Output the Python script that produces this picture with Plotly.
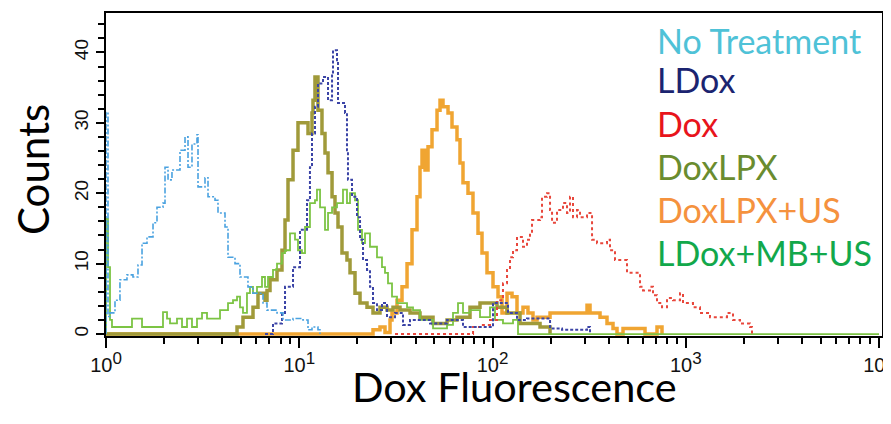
import plotly.graph_objects as go

# ---------------- data (fluorescence, counts) ----------------
nt_x = [1.0, 1.0, 1.024, 1.049, 1.113, 1.181, 1.284, 1.379, 1.464, 1.536, 1.630, 1.751, 1.836, 1.972,
        2.020, 2.094, 2.195, 2.415, 2.564, 2.657, 2.786, 2.957, 2.993, 3.253, 3.372, 3.665, 3.798,
        4.129, 4.279, 4.651, 4.936, 5.428, 5.763, 6.494, 6.810, 7.672, 8.240, 9.284, 10.45, 11.10,
        11.64, 12.50, 12.80]
nt_y = [0, 31.5, 2.5, 3.0, 4.8, 7.7, 8.4, 8.1, 9.8, 12.9, 13.8, 15.8, 18.0, 18.6,
        23.7, 21.9, 23.3, 26.1, 28.0, 23.7, 27.0, 28.3, 20.9, 22.2, 19.5, 19.0, 17.2,
        15.2, 10.9, 10.0, 8.1, 6.7, 5.8, 4.4, 3.4, 3.0, 2.0, 2.2, 2.0, 0.6,
        1.0, 0.6, 0]

ldox_x = [6.650, 7.314, 8.140, 8.440, 9.284, 10.09, 10.97, 11.36, 11.64, 12.06, 12.50, 13.27, 14.09,
          14.78, 14.95, 15.68, 15.87, 16.64, 17.25, 17.66, 17.87, 18.75, 19.90, 20.63, 21.38, 22.42,
          23.23, 24.08, 25.25, 26.80, 28.45, 31.30, 34.43, 37.43, 47.50, 58.16, 70.36, 100.6, 120.3,
          133.9, 150.8, 198.5, 228.9, 308.4, 319.6]
ldox_y = [0, 1.5, 3.0, 6.7, 9.5, 14.8, 19.0, 23.7, 28.5, 32.3, 35.6, 36.5, 33.2,
          37.0, 40.3, 38.9, 32.8, 32.8, 31.4, 26.1, 21.9, 19.5, 16.6, 13.4, 10.5, 9.1,
          6.7, 4.4, 3.4, 4.4, 2.4, 3.0, 1.3, 2.0, 1.5, 2.0, 1.0, 4.4, 3.0,
          2.0, 2.2, 0.8, 0.6, 1.0, 0]

dox_x = [31.30, 79.26, 79.3, 86.16, 97.07, 105.5, 113.3, 118.9, 123.2, 127.7, 133.9, 143.8, 150.8,
         156.3, 160.1, 176.2, 180.4, 191.4, 198.5, 203.3, 215.7, 231.6, 242.9, 251.8, 261.0, 273.7,
         283.7, 308.4, 327.4, 347.4, 391.3, 405.5, 430.4, 456.8, 496.6, 559.5, 579.9, 601.0, 653.1,
         676.9, 709.9, 753.5, 799.8, 859.0, 933.6, 967.8, 1090, 1185, 1335, 1504, 1635, 1756, 1909,
         2150, 2202]
dox_y = [0, 0, 1.0, 1.3, 2.0, 4.8, 7.2, 9.1, 10.9, 11.9, 13.8, 12.4, 13.4,
         14.3, 16.2, 16.6, 19.5, 20.0, 17.6, 15.8, 17.6, 18.6, 17.2, 19.5, 16.6, 17.6,
         16.6, 17.2, 13.4, 12.9, 13.4, 11.9, 10.5, 10.5, 8.7, 8.7, 6.7, 6.2, 6.7,
         5.5, 4.4, 3.8, 5.1, 4.8, 5.8, 4.4, 3.8, 3.0, 2.4, 2.4, 3.0, 2.0, 1.5,
         1.0, 0]

lpx_x = [1.0, 4.542, 4.764, 5.115, 5.763, 6.116, 6.650, 6.810, 7.058, 7.672, 8.140, 8.440, 8.746,
         9.284, 9.851, 10.71, 11.10, 11.64, 11.78, 12.06, 12.50, 13.11, 13.59, 14.09, 14.78, 15.31,
         15.87, 16.64, 17.66, 18.31, 19.43, 20.63, 22.42, 24.08, 26.17, 28.45, 30.56, 33.22, 37.43,
         42.16, 49.23, 58.16, 65.50, 76.48, 86.16, 105.5, 118.9, 138.8, 176.2, 198.5]
lpx_y = [0, 0, 1.0, 2.4, 3.8, 5.8, 4.8, 6.2, 7.7, 9.1, 11.9, 16.2, 21.9,
         26.1, 30.0, 30.0, 28.5, 31.4, 33.2, 36.5, 31.8, 28.5, 25.7, 22.9, 19.5, 17.2,
         15.2, 11.5, 10.5, 8.7, 5.8, 4.4, 3.8, 3.0, 3.8, 3.4, 3.8, 3.4, 3.0,
         2.4, 1.5, 2.0, 2.4, 3.8, 4.4, 3.8, 3.0, 1.5, 1.0, 0]

lpxus_x = [1.0, 23.23, 24.08, 26.17, 27.78, 29.49, 30.20, 32.05, 34.02, 36.12, 38.33, 40.68, 42.16,
           43.18, 44.75, 46.38, 48.64, 51.63, 53.51, 55.45, 58.86, 61.72, 65.50, 67.88, 70.36, 74.68,
           79.26, 84.14, 88.25, 93.65, 100.6, 106.8, 112.0, 118.9, 126.2, 133.9, 143.8, 152.6, 162.0,
           170.0, 198.5, 294.0, 308.4, 319.6, 360.1, 391.3, 420.3, 440.8, 473.5, 615.4, 709.9, 753.5]
lpxus_y = [0, 0, 0.6, 1.0, 0.2, 2.0, 3.0, 4.8, 6.7, 10.0, 14.8, 19.5, 23.7,
           26.1, 23.3, 26.6, 29.0, 31.8, 33.2, 32.3, 31.4, 29.4, 27.6, 24.3, 21.5, 20.0,
           17.2, 14.3, 11.5, 8.7, 6.7, 5.3, 3.0, 5.8, 5.3, 3.0, 3.8, 3.0, 2.0,
           2.4, 3.0, 3.0, 4.1, 3.0, 2.4, 1.5, 0.8, 0, 0.8, 0, 1.0, 0]

mbus_x = [1.0, 1.0, 1.024, 1.049, 1.074, 1.363, 1.536, 1.972, 2.069, 2.144, 2.330, 2.474, 2.625,
          2.786, 2.957, 3.139, 3.332, 3.890, 4.279, 4.542, 4.764, 4.936, 5.115, 5.364, 5.559, 5.763,
          6.044, 6.416, 6.650, 6.891, 7.314, 7.672, 8.140, 8.440, 8.957, 9.506, 9.851, 10.33, 10.71,
          11.36, 12.06, 12.35, 12.81, 13.59, 14.09, 14.78, 15.68, 16.84, 17.66, 18.31, 19.43, 20.14,
          21.12, 21.89, 23.23, 25.25, 26.80, 27.78, 28.79, 30.20, 32.05, 36.12, 38.79, 42.16, 49.23,
          58.16, 62.46, 66.29, 70.36, 76.48, 86.16, 97.07, 103.0, 113.3, 127.7, 135.5, 10000]
mbus_y = [0, 16.4, 9.5, 2.0, 1.0, 2.2, 1.0, 3.1, 2.2, 1.5, 2.2, 1.0, 2.2,
          1.0, 2.2, 3.0, 2.2, 3.4, 4.4, 4.8, 5.3, 3.8, 3.0, 5.8, 6.7, 5.8,
          6.7, 8.1, 6.7, 8.1, 9.1, 10.0, 11.5, 11.9, 14.3, 13.4, 11.9, 11.5, 15.2,
          18.6, 19.0, 20.5, 18.0, 14.8, 17.2, 18.0, 18.6, 20.5, 18.6, 20.0, 19.0, 14.8,
          12.9, 14.3, 12.4, 10.9, 9.5, 8.7, 7.2, 5.3, 4.4, 3.8, 3.4, 2.0, 0.8,
          1.3, 3.0, 4.4, 3.0, 3.4, 2.4, 3.8, 2.0, 1.5, 2.0, 0, 0]

legend_labels = ["No Treatment", "LDox", "Dox", "DoxLPX", "DoxLPX+US", "LDox+MB+US"]
legend_colors = ["#4fc2d7", "#1b2470", "#e8141c", "#6a8c2f", "#f5923e", "#12a84b"]

x_tickvals = [1, 10, 100, 1000, 10000]
x_exponents = ["0", "1", "2", "3", "4"]
x_ticktext = ["10<sup><span style='font-size:17px'>" + e + "</span></sup>" for e in x_exponents]
x_minor = [m * d for d in [1, 10, 100, 1000] for m in range(2, 10)]
y_tickvals = [0, 10, 20, 30, 40]

# ---------------- figure ----------------
fig = go.Figure()

def add(x, y, color, width, dash):
    fig.add_trace(go.Scatter(x=x, y=y, mode="lines", line=dict(color=color, width=width, dash=dash, shape="hv"),
                             showlegend=False, hoverinfo="skip"))

add(lpxus_x, lpxus_y, "#f0a532", 3.5, "solid")
add(lpx_x, lpx_y, "#a09a3a", 3.5, "solid")
add(mbus_x, mbus_y, "#7cc444", 1.8, "solid")
add(dox_x, dox_y, "#e8473c", 2, "3px,3px")
add(ldox_x, ldox_y, "#3b44a6", 2, "3px,2px")
add(nt_x, nt_y, "#4aa2e0", 1.6, "6px,2px,2px,2px")

ys = [0.916, 0.793, 0.659, 0.526, 0.393, 0.260]
for lab, col, yy in zip(legend_labels, legend_colors, ys):
    fig.add_annotation(text=lab, xref="paper", yref="paper", x=0.7075, y=yy, xanchor="left", yanchor="middle",
                       showarrow=False, font=dict(family="Lato", size=34, color=col))

fig.add_annotation(text="Counts", xref="paper", yref="paper", x=-0.094, y=0.514, textangle=-90,
                   xanchor="center", yanchor="middle", showarrow=False,
                   font=dict(family="Lato", size=42, color="#000000"))
fig.add_annotation(text="Dox Fluorescence", xref="paper", yref="paper", x=0.5258, y=-0.155,
                   xanchor="center", yanchor="middle", showarrow=False,
                   font=dict(family="Lato", size=41.5, color="#000000"))

# page body keeps an 8px default margin, so the figure is 8px smaller on each axis
fig.update_layout(
    width=883, height=416,
    margin=dict(l=98, r=9, t=5, b=88, autoexpand=False),
    paper_bgcolor="white", plot_bgcolor="white",
    xaxis=dict(type="log", range=[0, 4.0155], showgrid=False, zeroline=False, automargin=False,
               showline=True, linecolor="black", linewidth=2, mirror=True,
               ticks="outside", ticklen=10, tickwidth=2, tickcolor="black",
               tickvals=x_tickvals, ticktext=x_ticktext, ticklabeloverflow="allow",
               tickfont=dict(family="Liberation Sans", size=20, color="#111111"),
               minor=dict(tickvals=x_minor, ticks="outside", ticklen=6, tickwidth=2, tickcolor="black")),
    yaxis=dict(range=[-0.28, 45.6], showgrid=False, zeroline=False, automargin=False,
               showline=True, linecolor="black", linewidth=2, mirror=True,
               ticks="outside", ticklen=8, tickwidth=2, tickcolor="black",
               tickvals=y_tickvals, tickangle=-90,
               tickfont=dict(family="Liberation Sans", size=19, color="#111111"),
               minor=dict(dtick=2, tick0=0, ticks="outside", ticklen=6, tickwidth=2, tickcolor="black")),
)

fig.write_html("out.html")
